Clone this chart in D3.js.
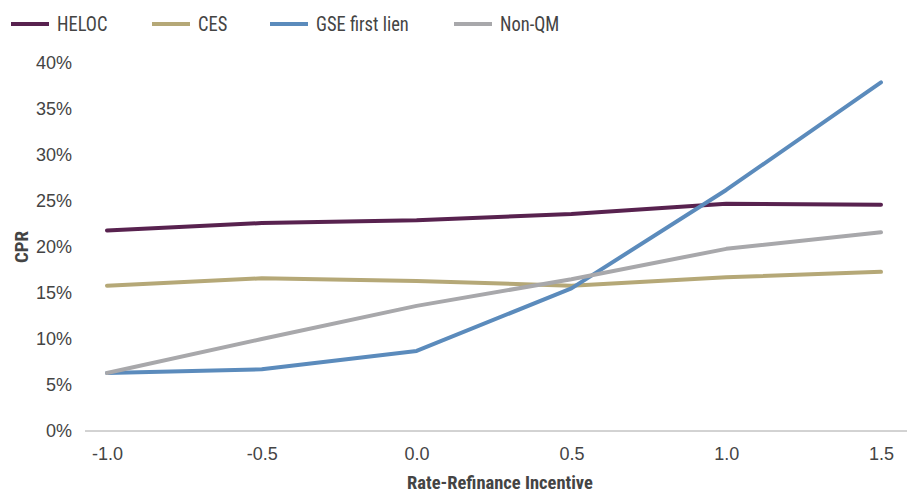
<!DOCTYPE html>
<html>
<head>
<meta charset="utf-8">
<script src="https://cdn.jsdelivr.net/npm/d3@7"></script>
<style>
  body { margin: 0; background: #fff; }
  svg { display: block; font-family: "Roboto Condensed", "Roboto", sans-serif; }
</style>
</head>
<body>
<svg id="chart" width="907" height="493"></svg>
<script>
// rate-refinance incentive buckets
const incentives = [-1.0, -0.5, 0.0, 0.5, 1.0, 1.5]

// CPR in percent per product
const heloc = [21.8, 22.6, 22.9, 23.6, 24.7, 24.6]
const ces = [15.8, 16.6, 16.3, 15.8, 16.7, 17.3]
const gseFirstLien = [6.3, 6.7, 8.7, 15.5, 26.2, 37.9]
const nonQm = [6.3, 10.0, 13.6, 16.5, 19.8, 21.6]

const yTicks = [0, 5, 10, 15, 20, 25, 30, 35, 40]

const series = [
  { name: 'HELOC', values: heloc, color: '#58224f' },
  { name: 'CES', values: ces, color: '#b5a877' },
  { name: 'GSE first lien', values: gseFirstLien, color: '#5b8bbc' },
  { name: 'Non-QM', values: nonQm, color: '#a8a8ab' }
]

const svg = d3.select('#chart')
const textColor = '#444'

const x = d3.scaleLinear().domain([-1, 1.5]).range([107, 881])
const y = d3.scaleLinear().domain([0, 40]).range([431, 63])

// y axis labels (no axis line)
const yAxis = svg.append('g')
  .attr('transform', 'translate(72,0)')
  .call(d3.axisLeft(y).tickValues(yTicks).tickSize(0).tickPadding(0).tickFormat(d => d + '%'))
yAxis.select('.domain').remove()
yAxis.selectAll('text')
  .attr('fill', textColor)
  .attr('font-size', 18)

// x axis: baseline line extends past the first and last buckets
const xAxis = svg.append('g')
  .attr('transform', `translate(0,${y(0)})`)
  .call(d3.axisBottom(x).tickValues(incentives).tickSize(0).tickPadding(16)
    .tickFormat(d => d.toFixed(1)))
xAxis.select('.domain').remove()
xAxis.append('line')
  .attr('x1', 85).attr('x2', 907)
  .attr('stroke', '#a6a6a6').attr('stroke-width', 1)
xAxis.selectAll('text')
  .attr('fill', textColor)
  .attr('font-size', 18)

// axis titles
svg.append('text')
  .attr('x', 500).attr('y', 489)
  .attr('text-anchor', 'middle')
  .attr('font-weight', 'bold')
  .attr('font-size', 18.5)
  .attr('fill', textColor)
  .text('Rate-Refinance Incentive')

svg.append('text')
  .attr('transform', 'translate(28,247) rotate(-90)')
  .attr('text-anchor', 'middle')
  .attr('font-weight', 'bold')
  .attr('font-size', 19)
  .attr('fill', textColor)
  .text('CPR')

// lines
const line = d3.line()
  .x((d, i) => x(incentives[i]))
  .y(d => y(d))

svg.append('g')
  .selectAll('path')
  .data(series)
  .enter()
  .append('path')
  .attr('d', d => line(d.values))
  .attr('fill', 'none')
  .attr('stroke', d => d.color)
  .attr('stroke-width', 4)
  .attr('stroke-linecap', 'round')
  .attr('stroke-linejoin', 'round')

// legend
const legendX = [11, 152, 270, 454]
const legend = svg.append('g')
  .selectAll('g')
  .data(series)
  .enter()
  .append('g')
  .attr('transform', (d, i) => `translate(${legendX[i]},24)`)
legend.append('line')
  .attr('x1', 0).attr('x2', 38)
  .attr('stroke', d => d.color)
  .attr('stroke-width', 4)
legend.append('text')
  .attr('transform', 'translate(46,0) scale(0.88,1)')
  .attr('dy', '0.35em')
  .attr('font-size', 21)
  .attr('fill', textColor)
  .text(d => d.name)
</script>
</body>
</html>
